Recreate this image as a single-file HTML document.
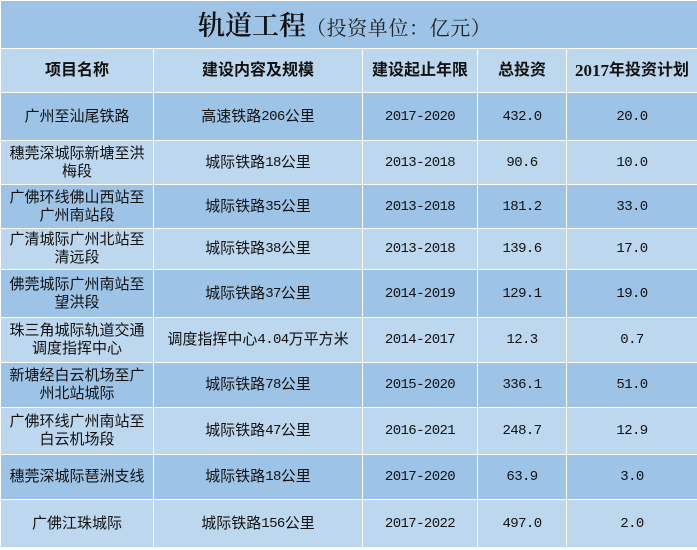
<!DOCTYPE html>
<html>
<head>
<meta charset="utf-8">
<style>
html,body{margin:0;padding:0;background:#fff;}
body{width:697px;height:550px;position:relative;overflow:hidden;
  font-family:"Liberation Sans","Noto Sans CJK SC",sans-serif;color:#111;}
.c{position:absolute;display:flex;align-items:center;justify-content:center;text-align:center;
  font-size:15px;line-height:18px;}
.d{background:#9DC3E6;}
.l{background:#BDD7EE;}
.h{font-weight:bold;font-size:16px;color:#111;}
.m{font-family:"Liberation Mono",monospace;font-size:14px;letter-spacing:-0.6px;}
.hy{font-family:"Liberation Serif",serif;font-weight:bold;font-size:17px;}
#title{position:absolute;left:1px;top:1px;width:696px;height:47px;background:#9DC3E6;}
#tt{position:absolute;left:197px;top:9px;white-space:nowrap;line-height:32px;}
#tt .a{font-family:"Liberation Serif","Noto Serif CJK SC",serif;font-size:27px;font-weight:600;color:#111;}
#tt .b{font-family:"Liberation Serif","Noto Serif CJK SC",serif;font-size:20px;letter-spacing:0.6px;color:#222;}
</style>
</head>
<body>
<div id="title"><div id="tt"><span class="a">轨道工程</span><span class="b">（投资单位：亿元）</span></div></div>

<!-- header -->
<div class="c l h" style="left:1px;top:49px;width:152px;height:43px;">项目名称</div>
<div class="c l h" style="left:154px;top:49px;width:208px;height:43px;">建设内容及规模</div>
<div class="c l h" style="left:363px;top:49px;width:114px;height:43px;">建设起止年限</div>
<div class="c l h" style="left:478px;top:49px;width:88px;height:43px;">总投资</div>
<div class="c l h" style="left:567px;top:49px;width:130px;height:43px;"><span class="hy">2017</span>年投资计划</div>

<!-- row 1 -->
<div class="c d" style="left:1px;top:93px;width:152px;height:47px;">广州至汕尾铁路</div>
<div class="c d" style="left:154px;top:93px;width:208px;height:47px;">高速铁路<span class="m">206</span>公里</div>
<div class="c d m" style="left:363px;top:93px;width:114px;height:47px;">2017-2020</div>
<div class="c d m" style="left:478px;top:93px;width:88px;height:47px;">432.0</div>
<div class="c d m" style="left:567px;top:93px;width:130px;height:47px;">20.0</div>

<!-- row 2 -->
<div class="c l" style="left:1px;top:141px;width:152px;height:43px;">穗莞深城际新塘至洪<br>梅段</div>
<div class="c l" style="left:154px;top:141px;width:208px;height:43px;">城际铁路<span class="m">18</span>公里</div>
<div class="c l m" style="left:363px;top:141px;width:114px;height:43px;">2013-2018</div>
<div class="c l m" style="left:478px;top:141px;width:88px;height:43px;">90.6</div>
<div class="c l m" style="left:567px;top:141px;width:130px;height:43px;">10.0</div>

<!-- row 3 -->
<div class="c d" style="left:1px;top:185px;width:152px;height:43px;">广佛环线佛山西站至<br>广州南站段</div>
<div class="c d" style="left:154px;top:185px;width:208px;height:43px;">城际铁路<span class="m">35</span>公里</div>
<div class="c d m" style="left:363px;top:185px;width:114px;height:43px;">2013-2018</div>
<div class="c d m" style="left:478px;top:185px;width:88px;height:43px;">181.2</div>
<div class="c d m" style="left:567px;top:185px;width:130px;height:43px;">33.0</div>

<!-- row 4 -->
<div class="c l" style="left:1px;top:229px;width:152px;height:40px;">广清城际广州北站至<br>清远段</div>
<div class="c l" style="left:154px;top:229px;width:208px;height:40px;">城际铁路<span class="m">38</span>公里</div>
<div class="c l m" style="left:363px;top:229px;width:114px;height:40px;">2013-2018</div>
<div class="c l m" style="left:478px;top:229px;width:88px;height:40px;">139.6</div>
<div class="c l m" style="left:567px;top:229px;width:130px;height:40px;">17.0</div>

<!-- row 5 -->
<div class="c d" style="left:1px;top:270px;width:152px;height:47px;">佛莞城际广州南站至<br>望洪段</div>
<div class="c d" style="left:154px;top:270px;width:208px;height:47px;">城际铁路<span class="m">37</span>公里</div>
<div class="c d m" style="left:363px;top:270px;width:114px;height:47px;">2014-2019</div>
<div class="c d m" style="left:478px;top:270px;width:88px;height:47px;">129.1</div>
<div class="c d m" style="left:567px;top:270px;width:130px;height:47px;">19.0</div>

<!-- row 6 -->
<div class="c l" style="left:1px;top:318px;width:152px;height:44px;">珠三角城际轨道交通<br>调度指挥中心</div>
<div class="c l" style="left:154px;top:318px;width:208px;height:44px;">调度指挥中心<span class="m">4.04</span>万平方米</div>
<div class="c l m" style="left:363px;top:318px;width:114px;height:44px;">2014-2017</div>
<div class="c l m" style="left:478px;top:318px;width:88px;height:44px;">12.3</div>
<div class="c l m" style="left:567px;top:318px;width:130px;height:44px;">0.7</div>

<!-- row 7 -->
<div class="c d" style="left:1px;top:363px;width:152px;height:44px;">新塘经白云机场至广<br>州北站城际</div>
<div class="c d" style="left:154px;top:363px;width:208px;height:44px;">城际铁路<span class="m">78</span>公里</div>
<div class="c d m" style="left:363px;top:363px;width:114px;height:44px;">2015-2020</div>
<div class="c d m" style="left:478px;top:363px;width:88px;height:44px;">336.1</div>
<div class="c d m" style="left:567px;top:363px;width:130px;height:44px;">51.0</div>

<!-- row 8 -->
<div class="c l" style="left:1px;top:408px;width:152px;height:46px;">广佛环线广州南站至<br>白云机场段</div>
<div class="c l" style="left:154px;top:408px;width:208px;height:46px;">城际铁路<span class="m">47</span>公里</div>
<div class="c l m" style="left:363px;top:408px;width:114px;height:46px;">2016-2021</div>
<div class="c l m" style="left:478px;top:408px;width:88px;height:46px;">248.7</div>
<div class="c l m" style="left:567px;top:408px;width:130px;height:46px;">12.9</div>

<!-- row 9 -->
<div class="c d" style="left:1px;top:455px;width:152px;height:44px;">穗莞深城际琶洲支线</div>
<div class="c d" style="left:154px;top:455px;width:208px;height:44px;">城际铁路<span class="m">18</span>公里</div>
<div class="c d m" style="left:363px;top:455px;width:114px;height:44px;">2017-2020</div>
<div class="c d m" style="left:478px;top:455px;width:88px;height:44px;">63.9</div>
<div class="c d m" style="left:567px;top:455px;width:130px;height:44px;">3.0</div>

<!-- row 10 -->
<div class="c l" style="left:1px;top:500px;width:152px;height:47px;">广佛江珠城际</div>
<div class="c l" style="left:154px;top:500px;width:208px;height:47px;">城际铁路<span class="m">156</span>公里</div>
<div class="c l m" style="left:363px;top:500px;width:114px;height:47px;">2017-2022</div>
<div class="c l m" style="left:478px;top:500px;width:88px;height:47px;">497.0</div>
<div class="c l m" style="left:567px;top:500px;width:130px;height:47px;">2.0</div>
</body>
</html>
